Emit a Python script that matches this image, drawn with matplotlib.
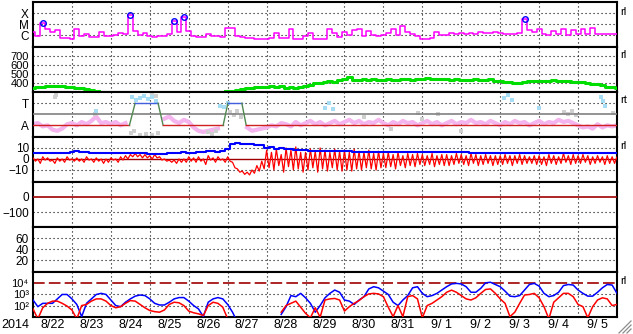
import numpy as np
import matplotlib
matplotlib.use("Agg")
import matplotlib.pyplot as plt
from matplotlib import font_manager
from matplotlib.lines import Line2D
from matplotlib.ticker import NullLocator

nan = np.nan

# ---------------- data (3-hour samples from 2014-08-22 00 UT) ----------------
year_label = "2014"
day_labels = ["8/22", "8/23", "8/24", "8/25", "8/26", "8/27", "8/28", "8/29",
              "8/30", "8/31", "9/ 1", "9/ 2", "9/ 3", "9/ 4", "9/ 5"]

# GOES X-ray flux in units of 1e-6 W/m2 (C1 = 1)
xray_c = [2.0, 0.8, 12, 3.5, 1.8, 3.0, 0.6, 0.55,
          0.5, 3.5, 0.8, 1.2, 0.7, 0.7, 1.8, 0.8,
          0.9, 1.0, 1.5, 1.2, 70, 2.5, 1.0, 1.5,
          0.8, 0.7, 0.8, 0.9, 1.2, 19, 2.0, 46,
          2.5, 0.8, 0.7, 0.7, 1.2, 0.9, 0.8, 0.7,
          5.0, 4.3, 0.8, 0.7, 0.6, 0.6, 0.5, 0.5,
          0.5, 0.6, 1.5, 0.6, 0.6, 3.5, 0.5, 0.5,
          0.8, 1.5, 0.5, 0.45, 0.5, 4.0, 1.5, 0.7,
          2.0, 1.0, 3.0, 3.5, 0.8, 2.5, 1.0, 0.9,
          1.0, 1.5, 3.5, 1.0, 6.5, 2.0, 1.2, 0.8,
          0.5, 0.5, 0.6, 1.8, 1.1, 1.0, 1.5, 1.3,
          1.5, 1.4, 1.5, 1.4, 2.2, 1.5, 1.6, 2.0,
          1.5, 1.2, 1.3, 1.2, 1.5, 28, 3.0, 1.8,
          3.5, 1.2, 1.0, 2.5, 1.2, 3.5, 1.0, 3.0,
          1.3, 3.5, 1.2, 4.5, 1.3, 1.2, 1.3, 1.3,
          1.3]
flare_day = [0.25, 2.5, 3.625, 3.875, 12.625]
flare_c = [12, 70, 19, 46, 28]

# solar wind speed (km/s)
speed = [350, 355, 360, 365, 370, 372, 365, 360,
         355, 350, 345, 335, 320, 315, nan, nan,
         nan, nan, nan, nan, nan, nan, nan, nan,
         nan, nan, nan, nan, nan, nan, nan, nan,
         nan, nan, nan, nan, nan, nan, nan, nan,
         315, 312, 318, 330, 345, 350, 352, 355,
         358, 365, 355, 362, 350, 355, 345, 360,
         370, 380, 395, 405, 410, 420, 415, 430,
         440, 465, 430, 435, 445, 430, 440, 435,
         430, 440, 435, 430, 445, 440, 435, 450,
         450, 455, 445, 450, 440, 445, 435, 440,
         430, 435, 430, 440, 435, 430, 440, 425,
         420, 415, 410, 405, 400, 410, 420, 425,
         420, 425, 420, 430, 425, 420, 420, 415,
         410, 410, 400, 390, 385, 380, 360, 355,
         350]

# T/A panel: pink index (A = 0, grey line = 1, T = 2)
ratio = [0.1, 0.2, -0.1, 0.0, -0.4, -0.5, -0.3, 0.1,
         0.2, 0.0, 0.3, 0.1, 0.4, 0.8, 0.2, 0.3,
         0.1, 0.3, 0.0, 0.2, nan, nan, nan, nan,
         nan, nan, nan, 0.6, 0.8, 0.4, 0.2, 0.5,
         0.3, -0.2, -0.5, -0.6, -0.5, -0.4, -0.3, nan,
         nan, nan, nan, nan, -0.2, -0.5, -0.4, -0.3,
         -0.2, 0.0, -0.1, 0.2, 0.1, -0.1, 0.3, 0.0,
         0.2, 0.4, 0.1, 0.3, 0.0, 0.2, 0.4, 0.1,
         0.3, 0.5, 0.2, 0.4, 0.1, 0.3, 0.2, 0.5,
         0.2, 0.0, 0.3, 0.1, 0.4, 0.2, 0.3, 0.0,
         0.2, 0.4, 0.1, 0.3, 0.0, 0.2, 0.4, 0.1,
         0.3, 0.2, 0.5, 0.2, 0.3, 0.1, 0.4, 0.2,
         0.0, 0.3, 0.1, 0.4, 0.2, 0.3, 0.0, 0.2,
         0.4, 0.1, 0.3, 0.2, 0.5, 0.3, 0.4, 0.2,
         0.0, -0.2, -0.1, -0.3, 0.1, -0.2, 0.0, -0.1,
         0.0]
gray_day = [0.57, 0.6, 1.6, 2.52, 2.6, 2.75, 2.9, 3.05, 3.2, 3.05, 3.15,
            4.5, 4.6, 4.7, 5.05, 5.15, 5.25, 5.35, 8.5, 9.2, 9.9, 10.0,
            10.4, 11.0, 13.65, 13.75, 13.85, 13.95, 14.9]
gray_val = [2.6, 2.8, 1.0, -0.7, -0.5, -0.9, -0.8, -0.9, -0.7, 2.9, 2.7,
            -0.6, -0.8, -0.5, 1.2, 0.9, 1.3, 0.8, 0.8, -0.3, 1.1, 0.6,
            1.0, -0.5, 1.2, 1.0, 1.3, 0.9, 1.1]
lblue_day = [1.62, 2.55, 2.65, 2.75, 2.85, 2.95, 3.05, 3.15, 4.8, 4.9, 5.0,
             7.5, 7.6, 7.7, 12.1, 12.2, 12.3, 13.0, 14.6, 14.65, 14.7]
lblue_val = [1.3, 2.6, 2.3, 2.5, 2.7, 2.4, 2.6, 2.2, 1.8, 1.7, 2.0,
             1.6, 2.0, 1.5, 2.5, 2.8, 2.3, 1.6, 2.6, 2.2, 1.8]
flag_day = [0, 2.476, 2.622, 3.213, 3.342, 4.884, 5.005, 5.365, 5.476, 15]
flag_level = [0, 0, 2, 2, 0, 0, 2, 2, 0, 0]

# IMF Bz extremes within each 3-hour bin (red), and Bt (blue), nT
bz_hi = [1, 0, 2, 1, -1, 1, 0, 2,
         0, 1, 0, 2, 0, 1, 0, 0,
         1, 0, 2, 3, 4, 5, 4, 4,
         3, 4, 2, 0, -1, -1, 0, 0,
         2, 1, 2, 0, 3, 1, 2, 0,
         2, -3, -9, -11, -12, -10, -6, -2,
         8, 6, 9, 4, 10, 8, 11, 6,
         6, 9, 7, 10, 8, 6, 9, 7,
         8, 6, 9, 7, 6, 8, 5, 7,
         5, 6, 4, 6, 3, 5, 4, 5,
         4, 3, 5, 3, 4, 4, 3, 5,
         4, 3, 5, 4, 3, 4, 3, 3,
         3, 4, 3, 3, 4, 3, 2, 3,
         3, 2, 4, 3, 2, 5, 3, 4,
         3, 4, 3, 2, 3, 2, 3, 2,
         2]
bz_lo = [-2, -4, -1, -2, -4, -2, -3, -1,
         -2, -2, -3, -1, -3, -2, -4, -3,
         -1, -3, -1, 0, 2, 2, 1, 1,
         0, 1, -1, -2, -3, -4, -3, -3,
         -2, -3, -2, -5, -1, -3, -1, -3,
         -2, -8, -12, -14, -14.5, -13, -11, -9,
         -8, -10, -6, -12, -7, -10, -9, -12,
         -10, -8, -12, -9, -11, -8, -10, -11,
         -10, -11, -9, -10, -8, -9, -10, -8,
         -8, -7, -9, -6, -8, -6, -7, -5,
         -6, -5, -7, -5, -6, -6, -5, -4,
         -5, -6, -4, -6, -5, -4, -6, -5,
         -5, -4, -6, -4, -5, -4, -4, -5,
         -5, -6, -4, -5, -4, -3, -5, -4,
         -4, -3, -5, -4, -3, -5, -4, -4,
         -3]
bt = [5, 5, 5.5, 5, 5, 5.5, 5, 5.5,
      6, 7, 6.5, 6, 5, 5, 5, 5,
      5, 5, 5, 5.5, 5, 5.5, 5, 5,
      4.5, 4.5, 4.5, 4.5, 5, 5, 5.5, 6,
      5, 5, 6, 6.5, 7, 7, 6.5, 7,
      9, 14, 14.5, 14, 14, 13.5, 13, 13,
      10, 11, 9, 10, 9, 9, 8.5, 8,
      8, 7.5, 7.5, 7, 7, 7, 7, 7.5,
      7, 7, 6.5, 6.5, 6.5, 6.5, 6.5, 6,
      6.5, 6, 6, 6, 6, 6, 6, 6,
      6, 6.5, 6, 6, 6, 6, 6, 6,
      6, 6, 5.5, 5.5, 5.5, 5.5, 5.5, 5.5,
      5.5, 5, 5, 5.5, 5, 5, 5, 5,
      5, 5, 5, 5, 5, 5, 5, 5.5,
      5.5, 5, 5, 5, 5, 5, 5, 5,
      5]

# Dst reference and particle alert level (no other data in those panels)
dst_ref = 0
proton_alert = 1e4

# particle flux, log10 values
flux_hi_log = [2.5, 1.9, 2.2, 2.2, 2.2, 2.6, 3.0, 3.0,
               2.6, 2.1, 1.0, 2.2, 2.6, 3.0, 3.1, 3.0,
               2.5, 2.0, 1.9, 2.3, 2.6, 2.85, 2.95, 2.9,
               2.6, 2.2, 2.05, 2.05, 2.3, 2.6, 2.72, 2.72,
               2.4, 2.0, 1.7, 1.0, 2.3, 2.6, 2.72, 2.6,
               2.1, 1.4, 0.5, nan, nan, nan, nan, nan,
               nan, nan, nan, 1.2, 1.9, 2.9, 2.8, 3.1,
               2.7, 2.2, 1.4, 2.0, 2.7, 3.1, 3.4, 3.2,
               2.5, 2.4, 2.1, 2.5, 2.8, 3.5, 3.7, 3.6,
               3.3, 3.0, 2.3, 2.0, 2.5, 2.9, 3.6, 3.7,
               3.1, 2.8, 2.9, 3.1, 3.4, 3.7, 3.95, 4.0,
               3.95, 3.7, 3.2, 3.2, 3.55, 4.05, 4.1, 3.9,
               3.7, 3.3, 2.85, 2.8, 2.9, 3.4, 3.9, 4.0,
               3.75, 3.1, 2.8, 2.9, 3.2, 3.8, 3.9, 3.85,
               3.4, 3.1, 2.85, 2.85, 3.2, 3.6, 3.9, 3.85,
               3.1]
flux_lo_log = [1.7, 0.8, 1.8, 2.2, 2.4, 2.4, 2.2, 1.95,
               1.6, 0.8, 2.0, 2.1, 2.4, 2.6, 2.6, 2.4,
               2.0, 1.8, 1.9, 2.2, 2.45, 2.4, 2.1, 1.8,
               1.55, 1.45, 1.4, 1.6, 2.1, 2.3, 2.25, 2.0,
               1.5, 1.35, 1.25, 1.1, 2.0, 2.3, 2.2, 1.85,
               0.8, nan, nan, nan, nan, nan, nan, nan,
               nan, nan, nan, 1.4, 2.0, 2.2, 2.4, 1.85,
               1.3, 0.9, 1.8, 0.95, 2.5, 2.6, 2.64, 2.5,
               1.5, 1.9, 2.2, 2.45, 2.8, 3.05, 3.1, 3.05,
               2.8, 1.85, 1.0, 2.0, 1.0, 2.8, 2.9, 2.6,
               0.9, 2.0, 2.2, 2.5, 2.8, 3.2, 3.39, 3.2,
               2.9, 2.6, 2.5, 2.7, 3.1, 3.45, 3.5, 3.1,
               2.6, 2.2, 1.0, 1.4, 2.2, 2.95, 3.0, 3.1,
               2.7, 1.9, 0.8, 2.3, 2.7, 3.1, 3.1, 2.8,
               2.1, 1.9, 0.9, 1.9, 2.5, 2.7, 2.6, 2.0,
               2.1]

# ---------------- styling ----------------
names = {f.name for f in font_manager.fontManager.ttflist}
FONT = "Liberation Sans Narrow" if "Liberation Sans Narrow" in names else "Liberation Sans"
plt.rcParams["font.family"] = [FONT, "DejaVu Sans"]
FS = 8.5

W, H = 633, 334
fig = plt.figure(figsize=(W / 100, H / 100), dpi=100)
fig.patch.set_facecolor("white")

X0, X1 = 33, 617
TOP, PH = 2.3, 45
DOT = (0, (1, 2.6))


def tser(arr):
    return np.arange(len(arr)) * 0.125


axes = []
for k in range(7):
    yt = TOP + PH * k
    ax = fig.add_axes([X0 / W, 1 - (yt + PH) / H, (X1 - X0) / W, PH / H])
    ax.set_xlim(0, 15)
    ax.set_xticks([])
    for s in ax.spines.values():
        s.set_linewidth(1.5)
        s.set_color("black")
    ax.tick_params(axis="y", length=0, pad=3, labelsize=FS)
    for d in range(1, 15):
        ax.axvline(d, color="black", lw=0.8, ls=DOT, zorder=1)
    axes.append(ax)


def hdots(ax, levels):
    for v in levels:
        ax.axhline(v, color="black", lw=0.8, ls=DOT, zorder=1)


# Panel 1: X-ray
ax = axes[0]
ax.set_yscale("log")
ax.set_ylim(10 ** -1.09, 1e3)
ax.yaxis.set_minor_locator(NullLocator())
ax.set_yticks([100, 10, 1])
ax.set_yticklabels(["X", "M", "C"])
hdots(ax, [100, 10, 1])
ax.plot(tser(xray_c), xray_c, color="#ff00ff", lw=1.1, drawstyle="steps-mid", zorder=3)
ax.plot(flare_day, flare_c, "o", mfc="none", mec="#0000ff", ms=4, mew=1.0, zorder=4)

# Panel 2: speed
ax = axes[1]
ax.set_ylim(297, 797)
ax.set_yticks([700, 600, 500, 400])
ax.tick_params(axis="y", labelsize=8)
hdots(ax, [700, 600, 500, 400])
ax.plot(tser(speed), speed, color="#00dd00", lw=2.2, drawstyle="steps-mid", zorder=3)

# Panel 3: T / A
ax = axes[2]
ax.set_ylim(-1.09, 3.0)
ax.set_yticks([2, 0])
ax.set_yticklabels(["T", "A"])
hdots(ax, [2])
ax.plot(tser(ratio), ratio, color="#f4b4ee", lw=3.0, zorder=2)
ax.plot(gray_day, gray_val, "s", color="#cfcfcf", ms=2.2, mew=0, zorder=2)
ax.plot(lblue_day, lblue_val, "s", color="#a6dcf4", ms=2.2, mew=0, zorder=2)
ax.axhline(1, color="#808080", lw=1.2, zorder=4)
for i in range(len(flag_day) - 1):
    a, b = flag_level[i], flag_level[i + 1]
    if a == b == 0:
        c = "#d02020"
    elif a == b:
        c = "#4060e0"
    else:
        c = "#508850"
    ax.plot(flag_day[i:i + 2], flag_level[i:i + 2], color=c, lw=1.0, zorder=5)

# Panel 4: IMF (Bz drawn as hi/lo excursions within each bin)
ax = axes[3]
ax.set_ylim(-21.2, 19.7)
ax.set_yticks([10, 0, -10])
hdots(ax, [10, -10])
ax.axhline(0, color="#a00000", lw=1.0, zorder=2)
tz = tser(bz_hi)
bz_t = np.column_stack([tz, tz + 0.0625]).ravel()
bz_v = np.column_stack([bz_hi, bz_lo]).ravel()
ax.plot(bz_t, bz_v, color="#ff0000", lw=0.9, zorder=3)
ax.plot(tser(bt), bt, color="#0000ff", lw=1.5, drawstyle="steps-mid", zorder=4)

# Panel 5: Dst
ax = axes[4]
ax.set_ylim(-198, 96)
ax.set_yticks([0, -100])
hdots(ax, [-100])
ax.axhline(dst_ref, color="#a00000", lw=1.2, zorder=3)

# Panel 6
ax = axes[5]
ax.set_ylim(-1.8, 80)
ax.set_yticks([60, 40, 20])
hdots(ax, [60, 40, 20])

# Panel 7: particle flux
ax = axes[6]
ax.set_yscale("log")
ax.set_ylim(10 ** 0.94, 1e5)
ax.yaxis.set_minor_locator(NullLocator())
ax.set_yticks([1e4, 1e3, 1e2])
ax.set_yticklabels(["10\u2074", "10\u00b3", "10\u00b2"], fontsize=8)
hdots(ax, [1e3, 1e2])
ax.axhline(proton_alert, color="#a00000", lw=1.2, dashes=(7, 2.5), zorder=2)
ax.plot(tser(flux_hi_log), 10 ** np.array(flux_hi_log), color="#0000ff", lw=1.1, zorder=3)
ax.plot(tser(flux_lo_log), 10 ** np.array(flux_lo_log), color="#ff0000", lw=1.1, zorder=4)

# bottom labels
ylab = 1 - 325 / H
fig.text(15.5 / W, ylab, year_label, ha="center", va="center", fontsize=9)
dpx = (X1 - X0) / 15
for k, lab in enumerate(day_labels):
    fig.text((X0 + (k + 0.5) * dpx) / W, ylab, lab, ha="center", va="center", fontsize=9)

# right-side marks
for ypx in (12, 55, 146, 281):
    fig.text(620 / W, 1 - ypx / H, "rl", ha="left", va="center", fontsize=8)
fig.text(620 / W, 1 - 100 / H, "rt", ha="left", va="center", fontsize=8)

# resize grip
for d in (4, 8, 12):
    fig.add_artist(Line2D([(631 - d) / W, 631 / W], [1 - 333 / H, 1 - (333 - d) / H],
                          transform=fig.transFigure, color="#8c8c8c", lw=0.9))

fig.savefig("out.png", dpi=100, facecolor="white")
